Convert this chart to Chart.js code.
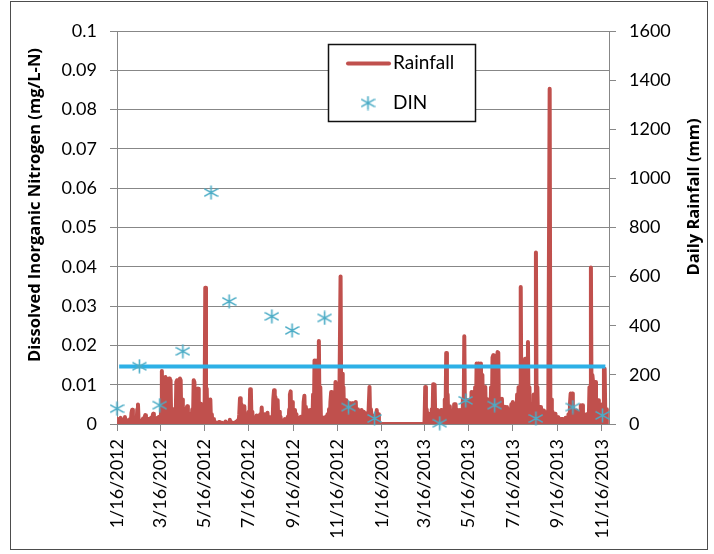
<!DOCTYPE html>
<html>
<head>
<meta charset="utf-8">
<script src="https://cdn.jsdelivr.net/npm/chart.js@4.4.1/dist/chart.umd.min.js"></script>
<style>
html,body{margin:0;padding:0;background:#fff;}
#wrap{position:relative;width:714px;height:554px;}
</style>
</head>
<body>
<div id="wrap"><canvas id="c" width="714" height="554"></canvas></div>
<script>
// ---- DATA (day 0 = 1/16/2012) ----
const tickDays = [0, 60, 121, 182, 244, 305, 366, 425, 486, 547, 609, 670];
const tickLabels = ["1/16/2012","3/16/2012","5/16/2012","7/16/2012","9/16/2012","11/16/2012",
                    "1/16/2013","3/16/2013","5/16/2013","7/16/2013","9/16/2013","11/16/2013"];
const dinTicks = [0, 0.01, 0.02, 0.03, 0.04, 0.05, 0.06, 0.07, 0.08, 0.09, 0.1];
const rainTicks = [0, 200, 400, 600, 800, 1000, 1200, 1400, 1600];

const dinDays   = [0, 31, 59, 91, 130, 155, 214, 242, 287, 320, 356, 446, 482, 522, 579, 630, 671];
const dinValues = [0.0039, 0.0147, 0.0048, 0.0185, 0.0589, 0.0312, 0.0274, 0.0238, 0.0270, 0.0043,
                   0.0014, 0.0002, 0.0060, 0.0048, 0.0014, 0.0043, 0.0022];

const thresholdDays = [3, 675];
const thresholdValue = 0.0146;

// daily rainfall (mm), one value per day starting 1/16/2012
const rainfall = [
 20,0,15,0,10,25,0,12,0,18,0,28,0,5,15,0,8,0,20,0,45,58,0,10,0,8,20,0,60,79,
 0,15,0,8,0,15,22,0,25,36,0,15,0,20,0,10,0,25,0,30,42,0,20,0,15,0,25,0,30,0,
 0,60,216,0,120,0,150,191,0,130,0,150,185,0,178,0,60,0,60,0,50,0,171,178,0,120,0,185,178,0,
 100,0,30,0,20,0,60,72,0,30,0,35,42,0,60,0,178,170,0,100,0,120,144,0,80,0,82,0,30,0,
 60,0,555,0,144,0,100,0,60,100,0,40,0,20,0,10,0,0,5,0,3,8,0,0,3,5,0,0,2,5,
 10,0,0,5,0,8,17,0,8,0,0,3,5,0,5,10,0,15,0,40,105,0,80,0,60,0,72,0,40,0,
 30,0,50,0,141,140,0,50,0,20,0,20,0,35,0,20,0,25,40,0,67,0,30,0,40,0,30,0,46,0,
 30,0,20,0,30,0,100,137,0,110,0,80,97,0,50,0,30,0,15,0,15,0,20,0,20,0,30,0,60,120,
 133,0,90,0,40,0,57,0,40,0,20,0,25,0,30,0,30,0,90,115,0,70,0,57,0,40,0,57,0,40,
 0,120,0,259,0,259,0,200,0,338,0,150,0,25,0,25,0,25,0,30,0,40,0,60,0,90,130,0,90,0,
 100,0,171,0,90,0,60,0,0,601,0,205,0,150,0,100,0,97,0,60,0,84,0,84,0,84,0,84,0,60,
 90,0,60,0,44,0,30,0,57,0,50,0,30,0,44,0,20,0,0,151,0,60,0,35,0,35,0,30,0,57,
 0,40,0,5,0,0,0,0,0,0,0,0,0,0,0,0,0,0,0,0,0,0,0,0,0,0,0,0,0,0,
 0,0,0,0,0,0,0,0,0,0,0,0,0,0,0,0,0,0,0,0,0,0,0,0,0,0,0,0,0,0,
 0,0,0,0,0,0,151,0,60,0,20,42,0,20,0,60,0,162,0,160,0,57,0,57,0,40,0,40,57,0,
 0,40,0,100,0,289,0,120,0,60,72,0,30,0,50,0,80,0,80,0,57,0,50,0,57,0,40,0,100,0,
 357,0,97,0,97,0,60,0,80,0,130,0,120,130,0,150,0,246,0,246,0,180,0,246,0,200,0,151,0,151,
 0,103,0,100,0,100,0,150,0,270,280,0,250,0,180,0,293,290,0,100,0,100,103,0,60,0,70,0,60,69,
 0,40,0,60,0,80,0,90,0,70,0,80,0,120,0,150,0,0,558,0,150,0,200,0,266,0,200,0,334,0,
 150,0,80,0,80,0,120,0,0,698,0,150,0,60,0,69,0,40,0,55,0,50,0,40,0,50,0,0,1365,0,
 100,0,50,0,40,0,42,0,20,0,28,0,15,0,20,0,20,0,15,0,25,0,20,0,40,0,80,124,0,124,
 0,50,0,55,0,55,0,30,0,50,0,76,0,76,0,40,0,20,0,40,0,40,0,150,0,637,0,200,171,0,
 150,171,0,97,0,97,0,80,0,40,0,80,0,225,225,0,60,0
];

// ---- STYLE ----
const FONT = 'Lato, "Open Sans", sans-serif';
const TITLE_FONT = '"Open Sans", Lato, sans-serif';
const GRID = '#878787';
const RED = '#C0504D';
const AQUA = '#4BACC6';
const SKY = '#2DB0E6';

function makeStar(size, color) {
  const c = document.createElement('canvas');
  c.width = size; c.height = size;
  const g = c.getContext('2d');
  g.strokeStyle = color; g.lineWidth = 1.6; g.lineCap = 'butt';
  const m = size / 2;
  g.beginPath();
  g.moveTo(m, 0.5); g.lineTo(m, size - 0.5);
  g.moveTo(0.5, size * 0.24); g.lineTo(size - 0.5, size * 0.76);
  g.moveTo(0.5, size * 0.76); g.lineTo(size - 0.5, size * 0.24);
  g.stroke();
  return c;
}
const star = makeStar(15, AQUA);

const rainPoints = rainfall.map((v, i) => ({x: i, y: v}));
const dinPoints = dinDays.map((d, i) => ({x: d, y: dinValues[i]}));
const threshPoints = thresholdDays.map(d => ({x: d, y: thresholdValue}));

const fmtDin = v => String(+(+v).toFixed(2));

const framePlugin = {
  id: 'frame',
  beforeDraw(chart) {
    const ctx = chart.ctx;
    ctx.save();
    ctx.fillStyle = '#fff';
    ctx.fillRect(0, 0, chart.width, chart.height);
    ctx.restore();
  },
  afterDraw(chart) {
    const ctx = chart.ctx;
    ctx.save();
    // outer frame
    ctx.strokeStyle = '#4d4d4d';
    ctx.lineWidth = 1;
    ctx.strokeRect(10.5, 1.5, 697, 548);
    // axis titles
    ctx.fillStyle = '#000';
    ctx.font = 'bold 16.5px ' + TITLE_FONT;
    ctx.textAlign = 'center';
    ctx.textBaseline = 'middle';
    ctx.save();
    ctx.translate(35, 205);
    ctx.rotate(-Math.PI / 2);
    ctx.fillText('Dissolved Inorganic Nitrogen (mg/L-N)', 0, 0);
    ctx.restore();
    ctx.save();
    ctx.translate(694, 197);
    ctx.rotate(-Math.PI / 2);
    ctx.fillText('Daily Rainfall (mm)', 0, 0);
    ctx.restore();
    // legend
    ctx.fillStyle = '#fff';
    ctx.fillRect(328.5, 44.5, 147, 77);
    ctx.strokeStyle = '#111';
    ctx.lineWidth = 1.5;
    ctx.strokeRect(328.5, 44.5, 147, 77);
    ctx.strokeStyle = RED;
    ctx.lineWidth = 4;
    ctx.lineCap = 'round';
    ctx.beginPath();
    ctx.moveTo(348, 63.5); ctx.lineTo(389, 63.5);
    ctx.stroke();
    ctx.drawImage(star, 368 - 7.5, 103 - 7.5);
    ctx.fillStyle = '#000';
    ctx.font = '19px ' + FONT;
    ctx.textAlign = 'left';
    ctx.fillText('Rainfall', 393, 63);
    ctx.fillText('DIN', 393, 103);
    ctx.restore();
  }
};

new Chart(document.getElementById('c'), {
  type: 'line',
  data: {
    datasets: [
      {
        label: 'Rainfall', data: rainPoints, yAxisID: 'y2', order: 3,
        borderColor: RED, backgroundColor: RED, borderWidth: 4, pointRadius: 0,
        tension: 0, borderJoinStyle: 'round', borderCapStyle: 'round', fill: false
      },
      {
        label: 'Threshold', data: threshPoints, yAxisID: 'y', order: 2,
        borderColor: SKY, borderWidth: 4, pointRadius: 0, borderCapStyle: 'butt', fill: false
      },
      {
        label: 'DIN', data: dinPoints, yAxisID: 'y', order: 1, showLine: false, clip: false,
        pointStyle: star, pointRadius: 7, borderColor: AQUA, backgroundColor: AQUA
      }
    ]
  },
  options: {
    responsive: false,
    animation: false,
    events: [],
    layout: {padding: {top: 31, left: 0, right: 0, bottom: 0}},
    plugins: {legend: {display: false}, tooltip: {enabled: false}},
    scales: {
      x: {
        type: 'linear', position: 'bottom', min: 0, max: 680,
        afterBuildTicks: s => { s.ticks = tickDays.map(v => ({value: v})); },
        afterFit: s => { s.height = 130; },
        ticks: {
          autoSkip: false, minRotation: 90, maxRotation: 90, padding: 8, color: '#000',
          font: {family: FONT, size: 18},
          callback: v => tickLabels[tickDays.indexOf(v)]
        },
        grid: {drawOnChartArea: false, drawTicks: true, tickLength: 7, color: GRID},
        border: {color: GRID}
      },
      y: {
        position: 'left', min: 0, max: 0.1,
        afterBuildTicks: s => { s.ticks = dinTicks.map(v => ({value: v})); },
        afterFit: s => { s.width = 117; },
        ticks: {padding: 13, color: '#000', font: {family: FONT, size: 18}, callback: v => fmtDin(v)},
        grid: {color: GRID, tickLength: 7},
        border: {color: GRID}
      },
      y2: {
        position: 'right', min: 0, max: 1600,
        afterBuildTicks: s => { s.ticks = rainTicks.map(v => ({value: v})); },
        afterFit: s => { s.width = 105; },
        ticks: {padding: 13, color: '#000', font: {family: FONT, size: 18}, callback: v => String(v)},
        grid: {drawOnChartArea: false, color: GRID, tickLength: 7},
        border: {color: GRID}
      }
    }
  },
  plugins: [framePlugin]
});
</script>
</body>
</html>
